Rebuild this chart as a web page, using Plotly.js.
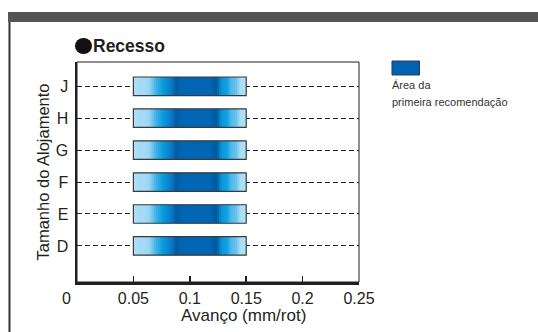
<!DOCTYPE html>
<html>
<head>
<meta charset="utf-8">
<script src="https://cdn.plot.ly/plotly-3.0.1.min.js"></script>
<style>html,body{margin:0;padding:0;background:#fff;}#chart{width:538px;height:332px;}</style>
</head>
<body>
<div id="chart"></div>
<script>
// ---- data ----
const categories = ['D', 'E', 'F', 'G', 'H', 'J'];
const barStart = [0.05, 0.05, 0.05, 0.05, 0.05, 0.05];
const barEnd   = [0.15, 0.15, 0.15, 0.15, 0.15, 0.15];
const xTickVals = [0.05, 0.1, 0.15, 0.2, 0.25];
const xTickText = ['0.05', '0.1', '0.15', '0.2', '0.25'];
const chartLabel = 'Recesso';
const xTitle = 'Avanço (mm/rot)';
const yTitle = 'Tamanho do Alojamento';
const legendText = ['Área da', 'primeira recomendação'];

// ---- gradient styling ----
const stops = [
  [0.00, '#aee0f8'], [0.14, '#9ed6f3'], [0.20, '#3db2e8'], [0.26, '#079ddf'],
  [0.34, '#0a78c2'], [0.38, '#0058a0'], [0.42, '#0066b3'], [0.68, '#0066b3'],
  [0.74, '#00589e'], [0.78, '#0896d9'], [0.83, '#12a3e2'], [0.87, '#55b8ea'],
  [0.92, '#6ec5ef'], [0.94, '#a6dcf6'], [1.00, '#b4e3f8']
];
function hex2rgb(h){return [parseInt(h.slice(1,3),16),parseInt(h.slice(3,5),16),parseInt(h.slice(5,7),16)];}
function colorAt(t){
  for(let i=0;i<stops.length-1;i++){
    const [t0,c0]=stops[i],[t1,c1]=stops[i+1];
    if(t>=t0&&t<=t1){
      const f=(t-t0)/(t1-t0||1),a=hex2rgb(c0),b=hex2rgb(c1);
      return 'rgb('+a.map((v,k)=>Math.round(v+(b[k]-v)*f)).join(',')+')';
    }
  }
  return stops[stops.length-1][1];
}
const N = 50;
const segY=[], segBase=[], segW=[], segC=[];
categories.forEach((c,i)=>{
  const w=(barEnd[i]-barStart[i])/N;
  for(let k=0;k<N;k++){
    segY.push(c); segBase.push(barStart[i]+k*w);
    segW.push(k<N-1 ? w*2 : w);
    segC.push(colorAt((k+0.5)/N));
  }
});

const traces = [
  {type:'bar', orientation:'h', y:segY, x:segW, base:segBase, width:0.58,
   marker:{color:segC, line:{width:0}}, hoverinfo:'skip', showlegend:false},
  {type:'bar', orientation:'h', y:categories, x:barEnd.map((e,i)=>e-barStart[i]), base:barStart, width:0.58,
   marker:{color:'rgba(0,0,0,0)', line:{width:1.2, color:'#3a3a3a'}}, hoverinfo:'skip', showlegend:false}
];

const txtFont = {family:'Liberation Sans, Arial, sans-serif', color:'#231f20'};
const layout = {
  width:538, height:332,
  margin:{l:77, r:179, t:62, b:50},
  paper_bgcolor:'#fff', plot_bgcolor:'#fff',
  barmode:'overlay', showlegend:false,
  xaxis:{range:[0,0.25], tickvals:xTickVals, ticktext:xTickText, ticks:'inside', ticklen:6, tickwidth:1.5,
         tickcolor:'#231f20', showline:true, linewidth:2.5, linecolor:'#231f20', showgrid:false, zeroline:false,
         tickfont:Object.assign({size:16}, txtFont), fixedrange:true},
  yaxis:{type:'category', categoryorder:'array', categoryarray:categories, range:[-1.13,5.76],
         showline:true, linewidth:2.5, linecolor:'#231f20', ticks:'', showgrid:true, gridcolor:'#222',
         gridwidth:1, griddash:'5px,3px', zeroline:false, ticklabelstandoff:3,
         tickfont:Object.assign({size:16}, txtFont),
         title:{text:yTitle, font:Object.assign({size:16.5}, txtFont), standoff:2}, fixedrange:true},
  shapes:[
    {type:'rect', xref:'paper', yref:'paper', x0:0, x1:1, y0:0, y1:1, line:{width:1, color:'#231f20'}},
    {type:'rect', xref:'paper', yref:'paper', x0:-0.2447, x1:1.64, y0:1.1818, y1:1.2273, fillcolor:'#555555', line:{width:0}},
    {type:'line', xref:'paper', yref:'paper', x0:-0.2394, x1:-0.2394, y0:1.1818, y1:-0.25, line:{width:2, color:'#333'}},
    {type:'rect', xref:'paper', yref:'paper', x0:1.117, x1:1.2145, y0:0.941, y1:1.0045, fillcolor:'#0062b0', line:{width:1, color:'#2a3a55'}},
    {type:'circle', xref:'paper', yref:'paper', x0:-0.0071, x1:0.0532, y0:1.036, y1:1.109, fillcolor:'#111', line:{width:0}}
  ],
  annotations:[
    {xref:'x', yref:'paper', x:0, y:0, text:'0', showarrow:false, xanchor:'center', yanchor:'top', xshift:-11, yshift:-6,
     font:Object.assign({size:16}, txtFont)},
    {xref:'paper', yref:'paper', x:0.589, y:-0.10, text:xTitle, showarrow:false, xanchor:'center', yanchor:'top',
     font:Object.assign({size:17}, txtFont)},
    {xref:'paper', yref:'paper', x:0.051, y:1.0727, text:'<b>'+chartLabel+'</b>', showarrow:false,
     xanchor:'left', yanchor:'middle', font:Object.assign({size:17.5}, txtFont)},
    {xref:'paper', yref:'paper', x:1.11, y:0.8955, text:legendText[0], showarrow:false, xanchor:'left', yanchor:'middle',
     font:{family:'Liberation Sans, Arial, sans-serif', size:11, color:'#333'}},
    {xref:'paper', yref:'paper', x:1.11, y:0.818, text:legendText[1], showarrow:false, xanchor:'left', yanchor:'middle',
     font:{family:'Liberation Sans, Arial, sans-serif', size:11, color:'#333'}}
  ]
};
Plotly.newPlot('chart', traces, layout, {displayModeBar:false, staticPlot:true});
</script>
</body>
</html>
